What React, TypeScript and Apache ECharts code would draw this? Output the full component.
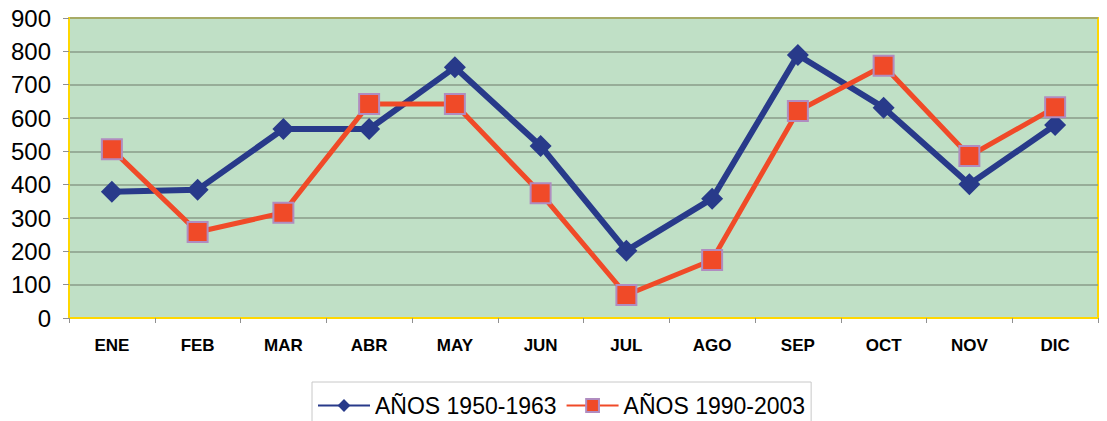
import React, { useEffect, useRef } from "react";
import * as echarts from "echarts";

const categories = ["ENE", "FEB", "MAR", "ABR", "MAY", "JUN", "JUL", "AGO", "SEP", "OCT", "NOV", "DIC"];
const seriesNames = ["AÑOS 1950-1963", "AÑOS 1990-2003"];
const values1950 = [379, 385, 567, 567, 752, 516, 202, 358, 789, 631, 401, 579];
const values1990 = [506, 258, 316, 642, 642, 374, 69, 174, 621, 757, 486, 632];
const yTicks = { min: 0, max: 900, interval: 100 };

export default function App() {
  const ref = useRef<HTMLDivElement>(null);
  useEffect(() => {
    document.body.style.margin = "0";
    const chart = echarts.init(ref.current!, null, { renderer: "svg" });
    chart.setOption({
      animation: false,
      backgroundColor: "#ffffff",
      textStyle: { fontFamily: "Arial, Liberation Sans, sans-serif" },
      grid: {
        left: 69,
        right: 9,
        top: 18,
        bottom: 103,
        show: true,
        backgroundColor: "#C0E0C6",
        borderColor: "#FFD700",
        borderWidth: 2,
      },
      legend: {
        left: 312,
        top: 382,
        padding: [12, 6, 12, 5],
        itemGap: 9,
        itemWidth: 52,
        itemHeight: 16,
        borderColor: "#c8c8c8",
        borderWidth: 1,
        backgroundColor: "#ffffff",
        textStyle: { fontSize: 23, color: "#000000", fontFamily: "Arial, Liberation Sans, sans-serif" },
        data: seriesNames,
      },
      xAxis: {
        type: "category",
        data: categories,
        boundaryGap: true,
        axisLine: { show: true, lineStyle: { color: "#FFD700", width: 2 } },
        axisTick: { show: true, length: 5, lineStyle: { color: "#909090", width: 1 } },
        axisLabel: { fontSize: 17, fontWeight: "bold", color: "#000000", margin: 19 },
        splitLine: { show: false },
      },
      yAxis: {
        type: "value",
        min: yTicks.min,
        max: yTicks.max,
        interval: yTicks.interval,
        axisLine: { show: true, lineStyle: { color: "#FFD700", width: 2 } },
        axisTick: { show: true, length: 6, lineStyle: { color: "#909090", width: 1 } },
        axisLabel: { fontSize: 24, color: "#000000", margin: 18 },
        splitLine: { show: true, lineStyle: { color: "#8A9C88", width: 1.5 } },
      },
      series: [
        {
          name: seriesNames[0],
          type: "line",
          data: values1950,
          symbol: "diamond",
          symbolSize: 22,
          lineStyle: { color: "#283A8A", width: 6 },
          itemStyle: { color: "#283A8A" },
          z: 2,
        },
        {
          name: seriesNames[1],
          type: "line",
          data: values1990,
          symbol: "rect",
          symbolSize: 20,
          lineStyle: { color: "#F04A28", width: 5 },
          itemStyle: { color: "#F04A28", borderColor: "#B08CC0", borderWidth: 2 },
          z: 3,
        },
      ],
    });
    return () => chart.dispose();
  }, []);
  return <div ref={ref} style={{ position: "absolute", left: 0, top: 0, width: 1107, height: 421 }} />;
}
